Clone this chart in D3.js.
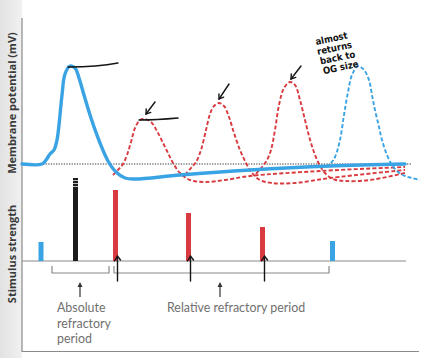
<!DOCTYPE html>
<html><head><meta charset="utf-8">
<script src="https://cdn.jsdelivr.net/npm/d3@7"></script>
<style>body{margin:0;background:#fff}svg{display:block}</style>
</head><body>
<svg id="c" width="424" height="358"></svg>
<script>
// time in ms, membrane potential in mV
const blueSolid = [[0,-70],[2,-70],[2.4,-66],[2.8,-60],[3.2,-56],[3.5,-46],[3.7,-31],[4,-1],[4.3,20],[4.8,28],[5.3,26],[5.7,16],[6.2,-1],[6.9,-24],[7.8,-49],[8.6,-67],[9.4,-78],[10.3,-84],[11.3,-85],[15.8,-81],[22.8,-76],[30.8,-72],[38.3,-70]];
const redAP1 = [[9.1,-81],[9.6,-76],[10.1,-70],[10.5,-61],[10.9,-48],[11.3,-34],[11.8,-26],[12.3,-25],[12.9,-28],[13.5,-37],[14.1,-49],[14.6,-59],[15.1,-69],[15.8,-79],[16.8,-86],[18.3,-88],[20.3,-86],[22.8,-82],[29.8,-77],[38.3,-73]];
const redAP2 = [[16.3,-81],[16.9,-74],[17.4,-68],[17.9,-56],[18.4,-36],[18.8,-20],[19.2,-12],[19.7,-9],[20.2,-12],[20.7,-23],[21.2,-39],[21.8,-56],[22.4,-69],[23,-79],[23.8,-86],[25,-89],[27.3,-89],[30.8,-84],[38.3,-76]];
const redAP3 = [[23.4,-80],[24,-73],[24.5,-66],[24.9,-56],[25.3,-36],[25.7,-11],[26.2,6],[26.8,12],[27.3,9],[27.8,-6],[28.3,-26],[28.9,-49],[29.6,-68],[30.3,-79],[31.1,-85],[32.3,-87],[34.8,-86],[38.3,-79]];
const blueDashed = [[30.4,-73],[30.9,-69],[31.3,-63],[31.8,-46],[32.2,-21],[32.6,2],[33,19],[33.6,28],[34.2,24],[34.7,14],[35,-1],[35.3,-16],[35.7,-33],[36,-46],[36.5,-61],[37,-71],[37.6,-78],[38.3,-82],[39,-84],[39.8,-86]];
const restingPotential = -70;
const restRange = [2.1, 39];

// stimuli
const stimTimes = [1.9, 5.35, 9.35, 16.65, 24.05, 31.05];
const stimStrength = [19, 83, 71, 48, 34, 20];
const stimKind = ["blue", "black", "red", "red", "red", "blue"];

// refractory periods
const periodNames = ["absolute", "relative"];
const periodStart = [3.0, 9.2];
const periodEnd = [8.7, 30.7];
const periodArrow = [5.8, 19.8];
const periodLabels = [["Absolute", "refractory", "period"], ["Relative refractory period"]];

// handwritten notes
const noteLines = ["almost", "returns", "back to", "OG size"];

const colors = {blue: "#3aa3e3", red: "#d83a3f", black: "#1c1c1c"};

const svg = d3.select("#c");
const x = d3.scaleLinear().domain([0, 40]).range([22, 422]);
const yV = d3.scaleLinear().domain([-70, 30]).range([164, 64]);
const yS = d3.scaleLinear().domain([0, 100]).range([261, 161]);

// left grey strip
const defs = svg.append("defs");
const g0 = defs.append("linearGradient").attr("id", "lg");
g0.append("stop").attr("offset", "0%").attr("stop-color", "#e2e2e2");
g0.append("stop").attr("offset", "100%").attr("stop-color", "#f1f1f1");
svg.append("rect").attr("x", 0).attr("y", 0).attr("width", 22).attr("height", 358).attr("fill", "url(#lg)");

// frame
const axisCol = "#8a8a8a";
svg.append("line").attr("x1", 22).attr("x2", 22).attr("y1", 18).attr("y2", 352).attr("stroke", axisCol).attr("stroke-width", 1.2);
svg.append("line").attr("x1", 22).attr("x2", 419).attr("y1", 351.5).attr("y2", 351.5).attr("stroke", axisCol).attr("stroke-width", 1.2);
svg.append("line").attr("x1", 22).attr("x2", x(38.4)).attr("y1", yS(0)).attr("y2", yS(0)).attr("stroke", axisCol).attr("stroke-width", 1.2);

// axis titles
svg.append("text").attr("transform", `translate(16,${103}) rotate(-90)`).attr("text-anchor", "middle")
  .style("font", "bold 11px 'Open Sans'").attr("fill", "#3b3b3b").text("Membrane potential (mV)");
svg.append("text").attr("transform", `translate(16,${254}) rotate(-90)`).attr("text-anchor", "middle")
  .style("font", "bold 11px 'Open Sans'").attr("fill", "#3b3b3b").text("Stimulus strength");

// resting baseline
svg.append("line").attr("x1", x(restRange[0])).attr("x2", x(restRange[1]))
  .attr("y1", yV(restingPotential)).attr("y2", yV(restingPotential))
  .attr("stroke", "#7a7a7a").attr("stroke-width", 1.3).attr("stroke-dasharray", "1.3,1.3");

const line = d3.line().x(d => x(d[0])).y(d => yV(d[1])).curve(d3.curveCatmullRom.alpha(0.5));

[redAP1, redAP2, redAP3].forEach(d => {
  svg.append("path").attr("d", line(d)).attr("fill", "none").attr("stroke", colors.red)
    .attr("stroke-width", 1.9).attr("stroke-dasharray", "4,2.2");
});
svg.append("path").attr("d", line(blueDashed)).attr("fill", "none").attr("stroke", colors.blue)
  .attr("stroke-width", 1.9).attr("stroke-dasharray", "4,2.2");
svg.append("path").attr("d", line(blueSolid)).attr("fill", "none").attr("stroke", colors.blue)
  .attr("stroke-width", 3.4).attr("stroke-linejoin", "round").attr("stroke-linecap", "round");

// stimulus bars
const bw = 5;
stimTimes.forEach((t, i) => {
  svg.append("rect").attr("x", x(t) - bw / 2).attr("width", bw)
    .attr("y", yS(stimStrength[i])).attr("height", yS(0) - yS(stimStrength[i]))
    .attr("fill", colors[stimKind[i]]);
  if (stimKind[i] === "black") {
    [2.5, 5.5, 8.5].forEach(o => {
      svg.append("line").attr("x1", x(t) - bw / 2).attr("x2", x(t) + bw / 2)
        .attr("y1", yS(stimStrength[i]) + o).attr("y2", yS(stimStrength[i]) + o)
        .attr("stroke", "#bdbdbd").attr("stroke-width", 1);
    });
  }
});

// brackets
const bTop = 266, bBot = 273;
periodNames.forEach((n, i) => {
  const x0 = x(periodStart[i]), x1 = x(periodEnd[i]);
  svg.append("path").attr("d", `M${x0},${bTop}V${bBot}H${x1}V${bTop}`)
    .attr("fill", "none").attr("stroke", "#8a8a8a").attr("stroke-width", 1.2);
  const ax = x(periodArrow[i]);
  svg.append("line").attr("x1", ax).attr("x2", ax).attr("y1", 286).attr("y2", 297).attr("stroke", "#333").attr("stroke-width", 1.2);
  svg.append("path").attr("d", `M${ax - 2.5},${287}L${ax},${282}L${ax + 2.5},${287}Z`).attr("fill", "#333");
});
const lab = svg.append("g").style("font", "12.4px Lato").attr("fill", "#707070");
periodLabels[0].forEach((s, j) => lab.append("text").attr("x", 57).attr("y", 312 + j * 15.5).text(s));
lab.append("text").attr("x", 167).attr("y", 312).text(periodLabels[1][0]);

// handwritten marks
const hw = svg.append("g").attr("fill", "none").attr("stroke", "#151515").attr("stroke-width", 1.4).attr("stroke-linecap", "round");
const peak = d => d.reduce((a, b) => b[1] > a[1] ? b : a);
const pB = peak(blueSolid), p1 = peak(redAP1), p2 = peak(redAP2), p3 = peak(redAP3);
hw.append("path").attr("d", `M${x(pB[0]) - 2},${yV(pB[1]) + 1}C${x(pB[0]) + 20},${yV(pB[1]) + 1} ${x(pB[0]) + 35},${yV(pB[1]) - 0.5} ${x(pB[0]) + 48},${yV(pB[1]) - 3}`);
hw.append("path").attr("d", `M${x(p1[0]) - 6},${yV(p1[1]) + 1}C${x(p1[0]) + 10},${yV(p1[1]) + 1} ${x(p1[0]) + 22},${yV(p1[1])} ${x(p1[0]) + 33},${yV(p1[1]) - 1}`);
function arrow(x0, y0, x1, y1) {
  hw.append("path").attr("d", `M${x0},${y0}L${x1},${y1}`);
  const a = Math.atan2(y1 - y0, x1 - x0), L = 5;
  hw.append("path").attr("d", `M${x1 + L * Math.cos(a + Math.PI - 0.6)},${y1 + L * Math.sin(a + Math.PI - 0.6)}L${x1},${y1}L${x1 + L * Math.cos(a + Math.PI + 0.6)},${y1 + L * Math.sin(a + Math.PI + 0.6)}`);
}
arrow(x(p1[0]) + 10, yV(p1[1]) - 17, x(p1[0]) + 1, yV(p1[1]) - 5);
arrow(x(p2[0]) + 10, yV(p2[1]) - 19, x(p2[0]) + 0, yV(p2[1]) - 4);
arrow(x(p3[0]) + 11, yV(p3[1]) - 16, x(p3[0]) + 1, yV(p3[1]) - 3);
// up arrows at red stimuli
stimTimes.forEach((t, i) => {
  if (stimKind[i] !== "red") return;
  const sx = x(t) + 2;
  hw.append("path").attr("d", `M${sx},${281}L${sx},${258}`);
  hw.append("path").attr("d", `M${sx - 3},${261}L${sx},${256}L${sx + 3},${260}`);
});
const note = svg.append("g").attr("transform", "translate(337,55) rotate(-12)")
  .style("font", "bold 9.5px 'DejaVu Sans Condensed', 'DejaVu Sans'").attr("fill", "#111").attr("text-anchor", "middle");
noteLines.forEach((s, j) => note.append("text").attr("x", -2 + j * 1).attr("y", -14 + j * 10).text(s));
</script>
</body></html>
